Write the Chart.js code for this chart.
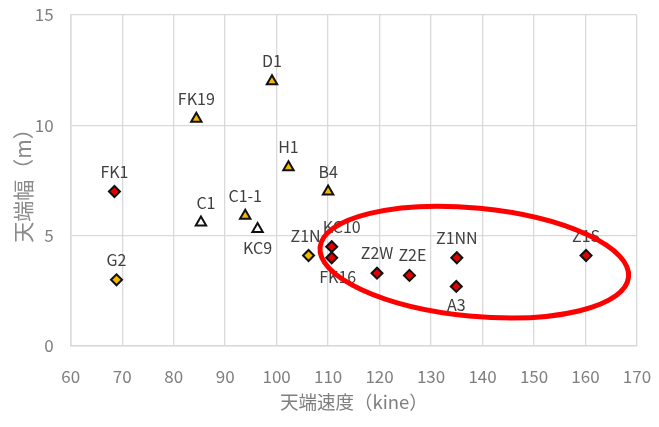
<!DOCTYPE html>
<html>
<head>
<meta charset="utf-8">
<script src="https://cdn.jsdelivr.net/npm/chart.js@4/dist/chart.umd.min.js"></script>
<style>
  html, body { margin: 0; padding: 0; background: #ffffff; }
  #wrap { width: 659px; height: 427px; position: relative; }
</style>
</head>
<body>
<div id="wrap"><canvas id="chart"></canvas></div>
<script>
// 天端速度 (kine) vs 天端幅 (m) per measuring point
const redNames  = ['FK1', 'KC10', 'FK16', 'Z2W', 'Z2E', 'Z1NN', 'A3', 'Z1S'];
const redSpeed  = [68.5, 110.7, 110.7, 119.5, 125.8, 135.0, 134.9, 160.1];
const redWidth  = [7.0, 4.5, 4.0, 3.3, 3.2, 4.0, 2.7, 4.1];

const goldDiaNames = ['G2', 'Z1N'];
const goldDiaSpeed = [68.9, 106.2];
const goldDiaWidth = [3.0, 4.1];

const goldTriNames = ['FK19', 'D1', 'H1', 'B4', 'C1-1'];
const goldTriSpeed = [84.4, 99.1, 102.3, 110.0, 93.9];
const goldTriWidth = [10.3, 12.0, 8.1, 7.0, 5.9];

const openTriNames = ['C1', 'KC9'];
const openTriSpeed = [85.3, 96.3];
const openTriWidth = [5.6, 5.3];

const xTicks = [60, 70, 80, 90, 100, 110, 120, 130, 140, 150, 160, 170];
const yTicks = [0, 5, 10, 15];

// highlighted group: centre (kine, m), semi-axes (kine, m), tilt (deg)
const ringCenter = [138.4, 3.8];
const ringAxes = [30.1, 2.45];
const ringTilt = 5.5;

// label placement tweaks (pixels)
const labelBelow = new Set(['KC9', 'FK16', 'A3']);
const labelShiftX = { 'KC10': 10, 'FK16': 6, 'C1': 5, 'Z1N': -3, 'Z2E': 3 };

const FONT = '"Noto Sans CJK JP", "Noto Sans", sans-serif';

function pts(xs, ys) { return xs.map((x, i) => ({ x: x, y: ys[i] })); }

const datasets = [
  { names: goldTriNames, data: pts(goldTriSpeed, goldTriWidth), pointStyle: 'triangle',
    backgroundColor: '#f2b800', borderColor: '#111111' },
  { names: openTriNames, data: pts(openTriSpeed, openTriWidth), pointStyle: 'triangle',
    backgroundColor: '#ffffff', borderColor: '#111111' },
  { names: goldDiaNames, data: pts(goldDiaSpeed, goldDiaWidth), pointStyle: 'rectRot',
    backgroundColor: '#f2b800', borderColor: '#111111' },
  { names: redNames, data: pts(redSpeed, redWidth), pointStyle: 'rectRot',
    backgroundColor: '#e00000', borderColor: '#111111' }
].map(d => Object.assign({
  showLine: false,
  pointRadius: d.pointStyle === 'triangle' ? 6 : 5.5,
  pointBorderWidth: 2,
  pointHoverRadius: 6
}, d, { pointBackgroundColor: d.backgroundColor, pointBorderColor: d.borderColor }));

const pointLabels = {
  id: 'pointLabels',
  afterDatasetsDraw(chart) {
    const ctx = chart.ctx;
    ctx.save();
    ctx.font = '16px ' + FONT;
    ctx.fillStyle = '#404040';
    ctx.textAlign = 'center';
    ctx.textBaseline = 'middle';
    chart.data.datasets.forEach((ds, di) => {
      const meta = chart.getDatasetMeta(di);
      meta.data.forEach((el, i) => {
        const name = ds.names[i];
        const dy = labelBelow.has(name) ? 19 : -20;
        const dx = labelShiftX[name] || 0;
        ctx.fillText(name, el.x + dx, el.y + dy);
      });
    });
    ctx.restore();
  }
};

const ring = {
  id: 'ring',
  afterDraw(chart) {
    const xs = chart.scales.x, ys = chart.scales.y;
    const cx = xs.getPixelForValue(ringCenter[0]);
    const cy = ys.getPixelForValue(ringCenter[1]);
    const rx = Math.abs(xs.getPixelForValue(ringCenter[0] + ringAxes[0]) - cx);
    const ry = Math.abs(ys.getPixelForValue(ringCenter[1] + ringAxes[1]) - cy);
    const ctx = chart.ctx;
    ctx.save();
    ctx.beginPath();
    ctx.ellipse(cx, cy, rx, ry, ringTilt * Math.PI / 180, 0, Math.PI * 2);
    ctx.strokeStyle = '#ff0000';
    ctx.lineWidth = 5;
    ctx.stroke();
    ctx.restore();
  }
};

new Chart(document.getElementById('chart'), {
  type: 'scatter',
  data: { datasets: datasets },
  plugins: [pointLabels, ring],
  options: {
    responsive: true,
    maintainAspectRatio: false,
    animation: false,
    layout: { autoPadding: false, padding: { top: 15, right: 22, left: 0, bottom: 0 } },
    plugins: { legend: { display: false }, tooltip: { enabled: false } },
    scales: {
      x: {
        type: 'linear',
        min: xTicks[0], max: xTicks[xTicks.length - 1],
        afterBuildTicks(scale) { scale.ticks = xTicks.map(v => ({ value: v })); },
        afterFit(scale) { scale.height = 81; },
        grid: { color: '#d9d9d9', lineWidth: 1.3, drawTicks: true, tickLength: 18,
                tickColor: 'rgba(0,0,0,0)' },
        border: { color: '#d9d9d9', width: 1.5 },
        ticks: { padding: 2, color: '#7f7f7f', font: { family: FONT, size: 17 } },
        title: { display: true, text: '天端速度（kine）', color: '#7f7f7f',
                 font: { family: FONT, size: 18.5 }, padding: { top: 0, bottom: 14 } }
      },
      y: {
        type: 'linear',
        min: yTicks[0], max: yTicks[yTicks.length - 1],
        afterBuildTicks(scale) { scale.ticks = yTicks.map(v => ({ value: v })); },
        afterFit(scale) { scale.width = 70.7; },
        grid: { color: '#d9d9d9', lineWidth: 1.3, drawTicks: true, tickLength: 15,
                tickColor: 'rgba(0,0,0,0)' },
        border: { color: '#d9d9d9', width: 1.5 },
        ticks: { padding: 2, color: '#7f7f7f', font: { family: FONT, size: 17 } },
        title: { display: true, text: '天端幅（m）', color: '#8a8a8a',
                 font: { family: FONT, size: 21 }, padding: { top: 10, bottom: 0 } }
      }
    }
  }
});
</script>
</body>
</html>
